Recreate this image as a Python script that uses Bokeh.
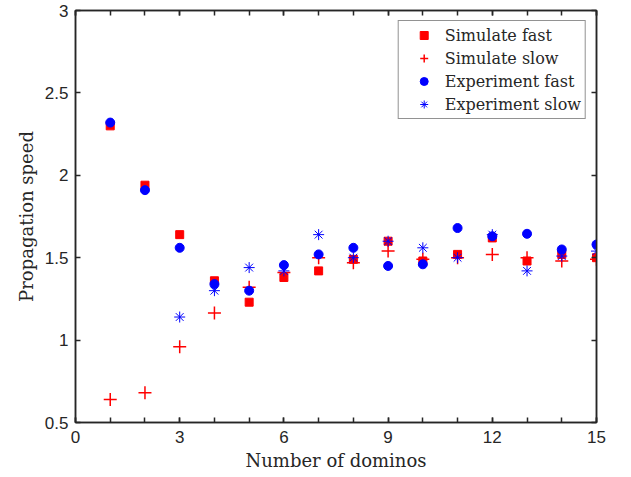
from bokeh.plotting import figure
from bokeh.models import Range1d, FixedTicker, LinearAxis, Legend, LegendItem, NumeralTickFormatter
from bokeh.embed import file_html
from bokeh.resources import INLINE

# ---- data ----
dominos = [1, 2, 3, 4, 5, 6, 7, 8, 9, 10, 11, 12, 13, 14, 15]
simulate_fast = [2.30, 1.94, 1.64, 1.36, 1.23, 1.38, 1.42, 1.49, 1.60, 1.48, 1.52, 1.62, 1.48, 1.52, 1.50]
simulate_slow = [0.64, 0.68, 0.96, 1.165, 1.32, 1.41, 1.50, 1.47, 1.54, 1.49, 1.50, 1.52, 1.50, 1.48, 1.49]
experiment_fast = [2.32, 1.91, 1.56, 1.34, 1.30, 1.455, 1.52, 1.56, 1.45, 1.46, 1.68, 1.63, 1.645, 1.55, 1.58]
dominos_slow = [3, 4, 5, 6, 7, 8, 9, 10, 11, 12, 13, 14, 15]
experiment_slow = [1.14, 1.30, 1.44, 1.42, 1.64, 1.50, 1.60, 1.56, 1.50, 1.64, 1.42, 1.51, 1.54]

x_ticks = [0, 3, 6, 9, 12, 15]
x_minor = list(range(0, 16))
y_ticks = [0.5, 1, 1.5, 2, 2.5, 3]

AX = "#262626"
SANS = "Liberation Sans"
SERIF = "DejaVu Serif"

p = figure(width=631, height=477, x_range=Range1d(0, 15), y_range=Range1d(0.5, 3),
           output_backend="svg", toolbar_location=None,
           min_border_left=75, min_border_right=35, min_border_top=10, min_border_bottom=55)
p.xgrid.visible = False
p.ygrid.visible = False
p.outline_line_color = AX
p.outline_line_width = 1.5
p.background_fill_color = "white"
p.border_fill_color = "white"

xt = FixedTicker(ticks=x_ticks, minor_ticks=x_minor)
yt = FixedTicker(ticks=y_ticks, minor_ticks=[])


def style(ax, ticker, show_labels):
    ax.ticker = ticker
    ax.axis_line_color = AX
    ax.axis_line_width = 1.5
    ax.major_tick_line_color = AX
    ax.major_tick_line_width = 1.5
    ax.minor_tick_line_color = AX
    ax.minor_tick_line_width = 1.5
    ax.major_tick_in = 5
    ax.major_tick_out = 0
    ax.minor_tick_in = 5
    ax.minor_tick_out = 0
    if show_labels:
        ax.major_label_text_font = SANS
        ax.major_label_text_font_size = "17px"
        ax.major_label_text_color = AX
        ax.formatter = NumeralTickFormatter(format="0.[0]")
        ax.axis_label_text_font = SERIF
        ax.axis_label_text_font_size = "18px"
        ax.axis_label_text_font_style = "normal"
        ax.axis_label_text_color = AX
    else:
        ax.major_label_text_font_size = "7px"
        ax.major_label_text_color = None
        ax.major_label_standoff = 0


style(p.xaxis[0], xt, True)
p.xaxis[0].axis_label = "Number of dominos"
p.xaxis[0].major_label_standoff = 8
p.xaxis[0].axis_label_standoff = 4

style(p.yaxis[0], yt, True)
p.yaxis[0].axis_label = "Propagation speed"
p.yaxis[0].major_label_standoff = 7
p.yaxis[0].axis_label_standoff = 5

top_ax = LinearAxis()
style(top_ax, xt, False)
p.add_layout(top_ax, "above")
right_ax = LinearAxis()
style(right_ax, yt, False)
p.add_layout(right_ax, "right")

r1 = p.scatter(dominos, simulate_fast, marker="square", size=8, fill_color="#ff0000", line_color="#ff0000")
r2 = p.scatter(dominos, simulate_slow, marker="cross", size=13, line_color="#ff0000", line_width=1.5)
r3 = p.scatter(dominos, experiment_fast, marker="circle", size=9, fill_color="#0000ff", line_color="#0000ff")
r4 = p.scatter(dominos_slow, experiment_slow, marker="asterisk", size=11, line_color="#0000ff", line_width=1)

legend = Legend(items=[
    LegendItem(label="Simulate fast", renderers=[r1]),
    LegendItem(label="Simulate slow", renderers=[r2]),
    LegendItem(label="Experiment fast", renderers=[r3]),
    LegendItem(label="Experiment slow", renderers=[r4]),
], location="top_right")
legend.label_text_font = SERIF
legend.label_text_font_size = "16px"
legend.label_text_color = AX
legend.border_line_color = AX
legend.border_line_width = 1
legend.background_fill_color = "white"
legend.background_fill_alpha = 1
legend.padding = 4
legend.spacing = 3
legend.margin = 10
legend.glyph_width = 42
legend.glyph_height = 20
legend.label_height = 20
legend.label_standoff = 0
p.add_layout(legend)

open("out.html", "w").write(file_html(p, INLINE))
